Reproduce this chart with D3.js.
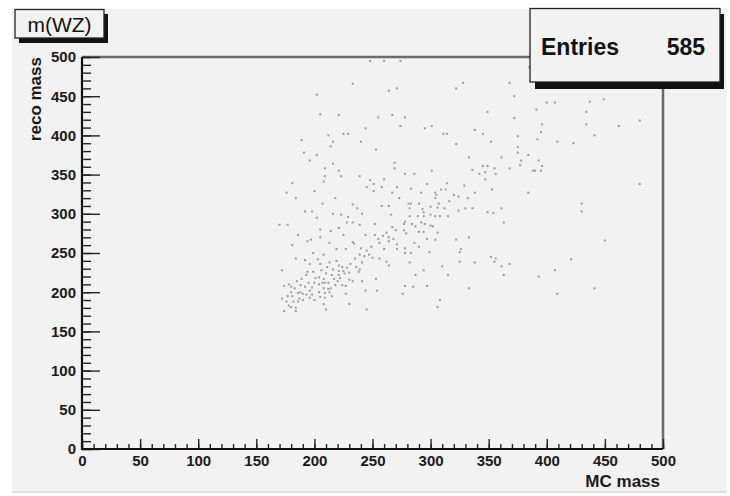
<!DOCTYPE html>
<html><head><meta charset="utf-8">
<script src="https://cdn.jsdelivr.net/npm/d3@7"></script>
<style>body{margin:0;background:#fff}svg{display:block}</style></head>
<body><svg id="c" width="730" height="496"></svg>
<script>
const titleText = "m(WZ)";
const xTitle = "MC mass";
const yTitle = "reco mass";
const statsLabel = "Entries";
const statsValue = "585";
const xDomain = [0, 500];
const yDomain = [0, 500];
const majorTicks = [0, 50, 100, 150, 200, 250, 300, 350, 400, 450, 500];
const minorTicks = d3.range(0, 501, 10);

const ptsUpper = [[248,495],[260,495],[274,495],[233,466],[264,457],[271,460],[202,452],[205,427],[221,426],[255,423],[267,426],[274,412],[244,409],[212,400],[225,402],[229,402],[189,394],[216,392],[240,392],[214,386],[253,382],[191,378],[202,375],[196,368],[216,364],[269,365],[209,358],[221,355],[269,358],[209,348],[223,348],[239,348],[260,344],[248,343],[181,339],[208,341],[251,338],[258,334],[245,334],[271,334],[200,329],[176,327],[251,329],[267,327],[218,320],[184,320],[273,320]];
const ptsUpperRight = [[328,467],[322,460],[368,467],[372,450],[349,430],[278,423],[372,422],[301,412],[295,409],[338,407],[311,402],[314,402],[345,402],[375,399],[352,392],[322,389],[375,385],[375,378],[333,372],[361,372],[384,375],[378,368],[377,362],[336,356],[345,361],[349,361],[355,358],[368,358],[301,355],[347,353],[342,351],[388,355],[278,351],[286,351],[356,351],[347,344],[297,338],[314,339],[329,336],[283,332],[309,331],[313,331],[353,331],[292,327],[304,327],[338,327],[384,327],[305,324],[320,324],[324,322],[304,320],[332,320],[385,487],
[400,442],[407,442],[437,443],[449,446],[391,433],[434,430],[396,414],[434,414],[462,412],[480,419],[395,404],[441,400],[392,395],[409,392],[423,390],[393,368],[396,361],[390,355],[395,355],[480,338]];
const ptsCore = [[207,313],[233,312],[237,307],[258,310],[264,310],[192,303],[198,303],[216,300],[223,299],[241,300],[229,296],[266,299],[202,295],[228,289],[233,289],[170,286],[177,286],[239,286],[252,287],[267,283],[270,279],[205,280],[214,278],[221,282],[186,273],[205,270],[225,273],[244,273],[252,273],[259,272],[264,270],[268,268],[194,265],[197,267],[213,263],[233,264],[256,263],[264,265],[271,261],[181,260],[219,255],[227,255],[240,256],[245,253],[260,255],[271,255],[199,250],[208,248],[239,248],[247,248],[250,244],[184,243],[192,241],[256,243],[262,239],[196,236],[205,236],[213,238],[241,238],[221,234],[224,232],[228,231],[216,229],[221,227],[225,227],[239,229],[264,234],[172,228],[194,226],[199,226],[210,224],[221,222],[238,226],[204,219],[208,217],[189,217],[217,217],[220,214],[230,216],[233,214],[241,214],[253,217],[200,212],[204,210],[209,212],[212,212],[178,210],[180,207],[174,208],[188,209],[192,207],[224,209],[227,208],[208,205],[212,204],[254,202],[186,199],[188,200],[196,202],[204,200],[209,199],[213,200],[244,202],[177,195],[181,195],[193,197],[198,197],[187,192],[190,190],[205,194],[209,193],[172,192],[182,188],[186,188],[176,188],[178,183],[200,190],[230,185],[208,185],[180,181],[184,180],[174,176],[184,176],[210,178],[245,178],
[183,205],[195,212],[201,218],[206,228],[211,232],[215,222],[218,209],[222,218],[226,224],[231,236],[235,243],[198,206],[190,198],[185,214],[215,195],[219,240],[203,242],[230,225],[236,232],[180,200],[193,222],[227,198],[214,205],[207,212],[196,193],[243,246],[249,258],[255,268],[262,276],[234,262]];
const ptsMid = [[281,313],[283,313],[290,313],[307,313],[316,316],[282,307],[293,306],[294,302],[300,309],[306,308],[312,307],[324,304],[330,307],[336,307],[361,307],[349,302],[354,301],[282,297],[289,297],[294,297],[300,299],[304,297],[308,297],[315,297],[278,290],[277,287],[284,287],[287,284],[292,289],[295,287],[300,285],[302,284],[363,289],[277,279],[279,275],[290,277],[294,277],[306,276],[297,268],[304,267],[322,267],[333,270],[286,263],[290,258],[278,256],[326,255],[325,251],[299,251],[278,250],[283,250],[352,245],[356,243],[355,239],[325,239],[338,238],[368,236],[282,238],[361,233],[310,233],[294,228],[287,222],[315,222],[363,222],[278,208],[285,207],[297,208],[333,205],[276,198],[308,190],[306,181]];
const ptsRight = [[430,313],[430,303],[450,266],[421,242],[407,228],[393,220],[441,205],[409,198]];

const points = [].concat(ptsUpper, ptsUpperRight, ptsCore, ptsMid, ptsRight);

const svg = d3.select("#c");
const font = "'Liberation Sans', Arial, Helvetica, sans-serif";
const L = 82, R = 663, T = 57, B = 449;
const x = d3.scaleLinear().domain(xDomain).range([L, R]);
const y = d3.scaleLinear().domain(yDomain).range([B, T]);

// pad
svg.append("rect").attr("x", 12).attr("y", 9).attr("width", 715).attr("height", 483).attr("fill", "#f2f2f2");
svg.append("line").attr("x1", 12).attr("x2", 727).attr("y1", 492).attr("y2", 492).attr("stroke", "#d6d6d6").attr("stroke-width", 1.5);

// frame top/right
svg.append("path").attr("d", `M${L},${T}H${R}V${B}`).attr("fill", "none").attr("stroke", "#6a6a6a").attr("stroke-width", 2.5);

// points
svg.append("g").selectAll("rect").data(points).join("rect")
  .attr("x", d => x(d[0]) - 1).attr("y", d => y(d[1]) - 1)
  .attr("width", 2).attr("height", 2).attr("fill", "#9c9c9c");

// axes
function styleAxis(g) {
  g.select(".domain").remove();
  g.selectAll(".tick line").attr("stroke", "#222").attr("stroke-width", 1.4);
  g.selectAll("text").attr("font-family", font).attr("font-size", 15).attr("font-weight", "bold").attr("fill", "#1a1a1a");
}
svg.append("g").attr("transform", `translate(${L},0)`)
  .call(d3.axisLeft(y).tickValues(minorTicks).tickSize(-9).tickFormat(""))
  .call(styleAxis);
svg.append("g").attr("transform", `translate(${L},0)`)
  .call(d3.axisLeft(y).tickValues(majorTicks).tickSize(-18).tickPadding(6).tickFormat(d3.format("d")))
  .call(styleAxis);
svg.append("g").attr("transform", `translate(0,${B})`)
  .call(d3.axisBottom(x).tickValues(minorTicks).tickSize(-5).tickFormat(""))
  .call(styleAxis);
svg.append("g").attr("transform", `translate(0,${B})`)
  .call(d3.axisBottom(x).tickValues(majorTicks).tickSize(-10).tickPadding(6).tickFormat(d3.format("d")))
  .call(styleAxis);

svg.append("path").attr("d", `M${L},${T}V${B}H${R}`).attr("fill", "none").attr("stroke", "#111").attr("stroke-width", 2.2);

// axis titles
svg.append("text").attr("x", 660).attr("y", 487).attr("text-anchor", "end")
  .attr("font-family", font).attr("font-size", 17).attr("font-weight", "bold").attr("fill", "#1a1a1a").text(xTitle);
svg.append("text").attr("transform", `translate(41,${T}) rotate(-90)`).attr("text-anchor", "end")
  .attr("font-family", font).attr("font-size", 17).attr("font-weight", "bold").attr("fill", "#1a1a1a").text(yTitle);

// title box
svg.append("rect").attr("x", 19).attr("y", 14).attr("width", 89).attr("height", 29).attr("fill", "#111");
svg.append("rect").attr("x", 15).attr("y", 9.5).attr("width", 89).attr("height", 28.5).attr("fill", "#f2f2f2").attr("stroke", "#222").attr("stroke-width", 1.3);
svg.append("text").attr("x", 59.5).attr("y", 32).attr("text-anchor", "middle")
  .attr("font-family", font).attr("font-size", 21).attr("fill", "#111").text(titleText);

// stats box
svg.append("rect").attr("x", 535).attr("y", 14).attr("width", 189).attr("height", 75).attr("fill", "#111");
svg.append("rect").attr("x", 530).attr("y", 8.5).attr("width", 190).attr("height", 73.5).attr("fill", "#f2f2f2").attr("stroke", "#222").attr("stroke-width", 1.3);
svg.append("text").attr("x", 541).attr("y", 55).attr("font-family", font).attr("font-weight", "bold")
  .attr("font-size", 23).attr("fill", "#111").text(statsLabel);
svg.append("text").attr("x", 705).attr("y", 55).attr("text-anchor", "end").attr("font-family", font).attr("font-weight", "bold")
  .attr("font-size", 23).attr("fill", "#111").text(statsValue);
</script></body></html>
